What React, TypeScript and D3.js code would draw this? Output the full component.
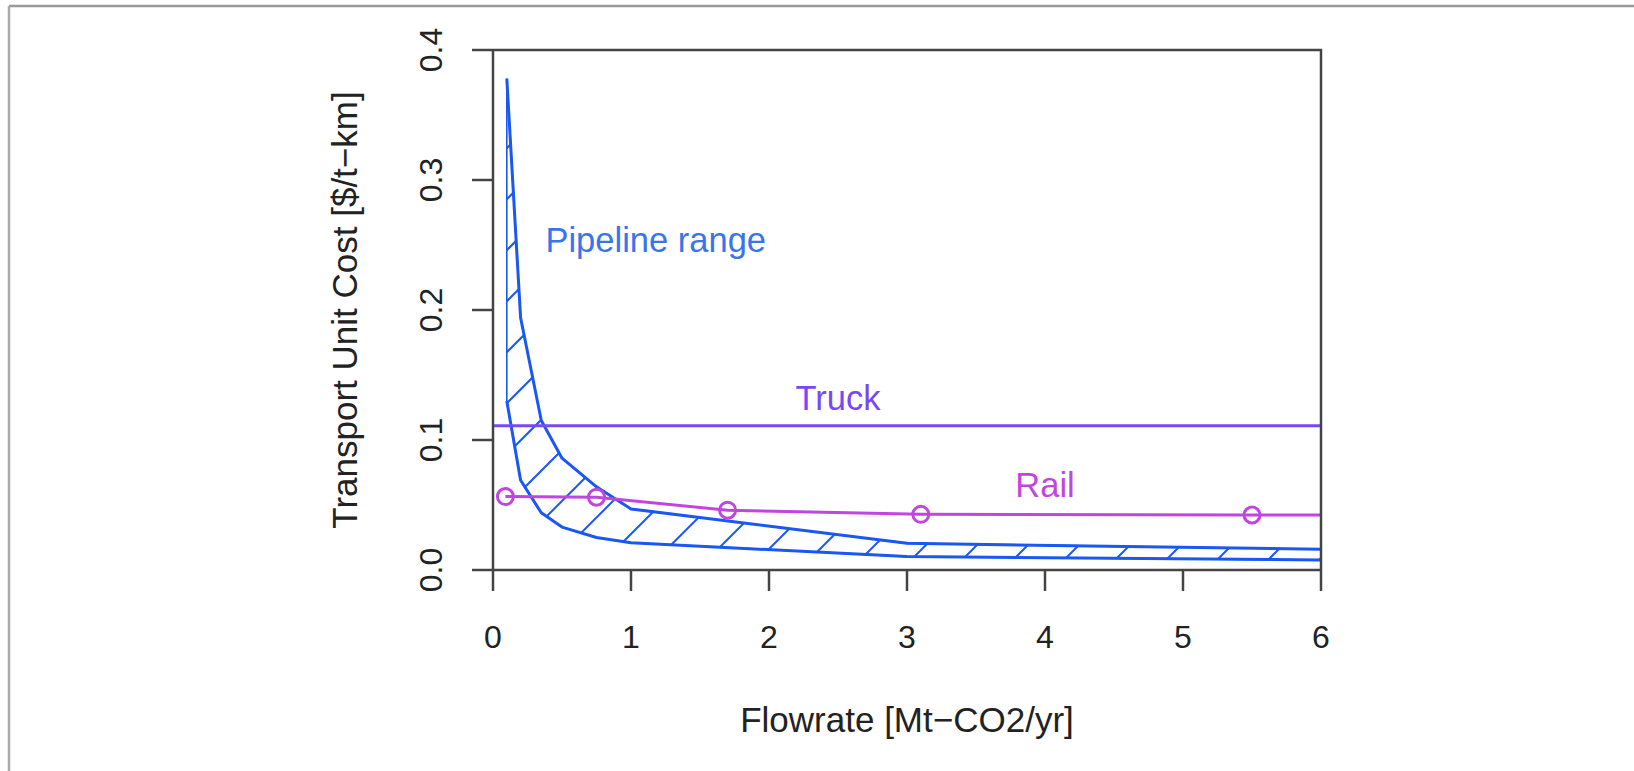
import * as d3 from 'd3';
import { useMemo } from 'react';

// pipeline range: upper and lower cost curves ($/t-km) vs flowrate (Mt-CO2/yr)
const pipeFlow = [0.1, 0.2, 0.35, 0.5, 0.75, 1, 3, 6];
const pipeUpper = [0.378, 0.194, 0.115, 0.086, 0.064, 0.047, 0.0205, 0.016];
const pipeLower = [0.13, 0.069, 0.044, 0.033, 0.025, 0.021, 0.0103, 0.0077];

// rail
const railFlow = [0.09, 0.75, 1.7, 3.1, 5.5, 6];
const railCost = [0.0565, 0.056, 0.046, 0.0428, 0.0423, 0.0423];
const railMarkFlow = [0.09, 0.75, 1.7, 3.1, 5.5];
const railMarkCost = [0.0565, 0.056, 0.046, 0.0428, 0.0423];

// truck
const truckFlow = [0, 6];
const truckCost = [0.111, 0.111];

const xTicks = [0, 1, 2, 3, 4, 5, 6];
const yTicks = [0, 0.1, 0.2, 0.3, 0.4];

const W = 1634;
const H = 771;
const margin = { left: 493, right: 313, top: 50, bottom: 201 };

const PIPE = '#1b58f2';
const TRUCK = '#7a48f2';
const RAIL = '#c145e0';
const AXIS = '#444';
const FONT = '"Liberation Sans", Arial, Helvetica, sans-serif';

const App = () => {
  const x = useMemo(() => d3.scaleLinear().domain([0, 6]).range([margin.left, W - margin.right]), []);
  const y = useMemo(() => d3.scaleLinear().domain([0, 0.4]).range([H - margin.bottom, margin.top]), []);

  const x0 = x(0), x1 = x(6), y0 = y(0), y1 = y(0.4);

  const line = d3.line<[number, number]>().x(d => x(d[0])).y(d => y(d[1]));

  const upperPts = pipeFlow.map((f, i) => [f, pipeUpper[i]] as [number, number]);
  const lowerPts = pipeFlow.map((f, i) => [f, pipeLower[i]] as [number, number]);
  const polyPts = [...upperPts, ...lowerPts.slice().reverse()];
  const polyPath = line(polyPts) + 'Z';

  // 45 degree hatching, like R polygon(density=...)
  const spacing = 51;
  const hatch: number[] = d3.range(-25, 25);

  return (
    <svg width={W} height={H} style={{ position: 'absolute', left: 0, top: 0, background: '#fff' }}>
      {/* outer frame */}
      <line x1={9} y1={6} x2={W} y2={6} stroke="#999" strokeWidth={2.5} />
      <line x1={9} y1={6} x2={9} y2={H} stroke="#aaa" strokeWidth={2.5} />

      <defs>
        <clipPath id="pipeClip">
          <path d={polyPath} />
        </clipPath>
      </defs>

      {/* hatching */}
      <g clipPath="url(#pipeClip)">
        {hatch.map(k => {
          const c = k * spacing;
          const xa = x0 - 700, xb = x0 + 1000;
          return (
            <line key={k} x1={xa} y1={y0 + c - (xa - x0)} x2={xb} y2={y0 + c - (xb - x0)}
              stroke={PIPE} strokeWidth={2} />
          );
        })}
      </g>
      <path d={polyPath} fill="none" stroke={PIPE} strokeWidth={1.6} />
      <path d={line(upperPts) || ''} fill="none" stroke={PIPE} strokeWidth={3} strokeLinejoin="round" />
      <path d={line(lowerPts) || ''} fill="none" stroke={PIPE} strokeWidth={3} strokeLinejoin="round" />

      {/* truck */}
      <path d={line(truckFlow.map((f, i) => [f, truckCost[i]] as [number, number])) || ''}
        fill="none" stroke={TRUCK} strokeWidth={3} />

      {/* rail */}
      <path d={line(railFlow.map((f, i) => [f, railCost[i]] as [number, number])) || ''}
        fill="none" stroke={RAIL} strokeWidth={3} />
      {railMarkFlow.map((f, i) => (
        <circle key={i} cx={x(f)} cy={y(railMarkCost[i])} r={8} fill="none" stroke={RAIL} strokeWidth={3} />
      ))}

      {/* labels in plot */}
      <text x={x(0.38)} y={y(0.2446)} fill="#3a74ea" fontFamily={FONT} fontSize={34.5}>Pipeline range</text>
      <text x={x(2.5)} y={y(0.123)} fill={TRUCK} fontFamily={FONT} fontSize={34.5} textAnchor="middle">Truck</text>
      <text x={x(4.0)} y={y(0.056)} fill={RAIL} fontFamily={FONT} fontSize={34.5} textAnchor="middle">Rail</text>

      {/* box */}
      <path d={`M${x0},${y1}H${x1}V${y0}`} fill="none" stroke={AXIS} strokeWidth={2.5} />
      <line x1={x0} y1={y1} x2={x0} y2={y0} stroke={AXIS} strokeWidth={2.5} />
      <line x1={x0} y1={y0} x2={x1} y2={y0} stroke={AXIS} strokeWidth={2.5} />

      {/* x axis */}
      {xTicks.map(t => (
        <g key={t}>
          <line x1={x(t)} y1={y0} x2={x(t)} y2={y0 + 21} stroke={AXIS} strokeWidth={2.5} />
          <text x={x(t)} y={y0 + 78} textAnchor="middle" fontFamily={FONT} fontSize={32} fill="#222">{t}</text>
        </g>
      ))}
      {/* y axis */}
      {yTicks.map(t => (
        <g key={t}>
          <line x1={x0 - 21} y1={y(t)} x2={x0} y2={y(t)} stroke={AXIS} strokeWidth={2.5} />
          <text transform={`translate(${x0 - 51},${y(t)}) rotate(-90)`} textAnchor="middle"
            fontFamily={FONT} fontSize={32} fill="#222">{t.toFixed(1)}</text>
        </g>
      ))}

      <text x={(x0 + x1) / 2} y={732} textAnchor="middle" fontFamily={FONT} fontSize={35} fill="#222">
        Flowrate [Mt−CO2/yr]
      </text>
      <text transform={`translate(357,${(y0 + y1) / 2}) rotate(-90)`} textAnchor="middle"
        fontFamily={FONT} fontSize={35} fill="#222">
        Transport Unit Cost [$/t−km]
      </text>
    </svg>
  );
};

export default App;
